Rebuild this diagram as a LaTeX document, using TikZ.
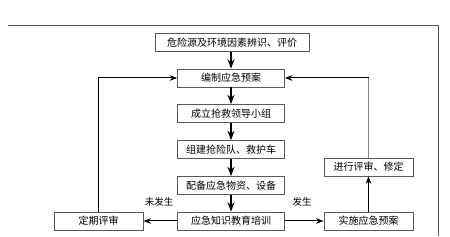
\documentclass[tikz,border=0pt]{standalone}
\usepackage{fontspec}
\setmainfont{Noto Sans CJK SC}
\usetikzlibrary{arrows.meta,positioning,calc}
\definecolor{framegray}{RGB}{90,90,90}
\definecolor{linegray}{RGB}{130,130,130}

\begin{document}
\begin{tikzpicture}[x=1pt, y=-1pt, >=Stealth,
    stepbox/.style={draw=framegray, line width=0.8pt, fill=white, inner sep=0pt,
        minimum height=18pt, font=\fontsize{10}{12}\selectfont},
    mainarrow/.style={->, line width=1.4pt, black},
    sidearrow/.style={->, line width=1pt, black}]
    \useasboundingbox (0,0) rectangle (450,237);

    % outer frame (top and right only)
    \draw[framegray, line width=0.9pt] (8,25) -- (438,25) -- (438,236);

    % central column
    \node[stepbox, minimum width=154pt] (risk) at (232,42.5) {危险源及环境因素辨识、评价};
    \node[stepbox, minimum width=107pt] (plan) at (231,78) {编制应急预案};
    \node[stepbox, minimum width=107pt] (team) at (231,113.5) {成立抢救领导小组};
    \node[stepbox, minimum width=107pt] (squad) at (231,149.5) {组建抢险队、救护车};
    \node[stepbox, minimum width=107pt] (supply) at (231,185.5) {配备应急物资、设备};
    \node[stepbox, minimum width=107pt] (train) at (231,221) {应急知识教育培训};

    % side boxes
    \node[stepbox, minimum width=89pt] (review) at (98.5,221) {定期评审};
    \node[stepbox, minimum width=89pt] (execute) at (368.5,221) {实施应急预案};
    \node[stepbox, minimum width=89pt] (revise) at (368.5,167) {进行评审、修定};

    % labels
    \node[font=\fontsize{9.5}{11}\selectfont] (nohap) at (159,202) {未发生};
    \node[font=\fontsize{9.5}{11}\selectfont] (hap) at (302,202) {发生};

    % main flow
    \draw[mainarrow] (risk.south -| squad) -- (plan);
    \draw[mainarrow] (plan) -- (team);
    \draw[mainarrow] (team) -- (squad);
    \draw[mainarrow] (squad) -- (supply);
    \draw[mainarrow] (supply) -- (train);

    % branches
    \draw[sidearrow] (train) -- (review);
    \draw[sidearrow] (train) -- (execute);
    \draw[sidearrow] (execute) -- (revise);

    % feedback loops
    \draw[sidearrow] (review.north) |- (plan.west);
    \coordinate (turn) at (revise.north |- plan.east);
    \draw[linegray, line width=1pt] (revise.north) -- (turn);
    \draw[sidearrow] (turn) -- (plan.east);
\end{tikzpicture}
\end{document}
